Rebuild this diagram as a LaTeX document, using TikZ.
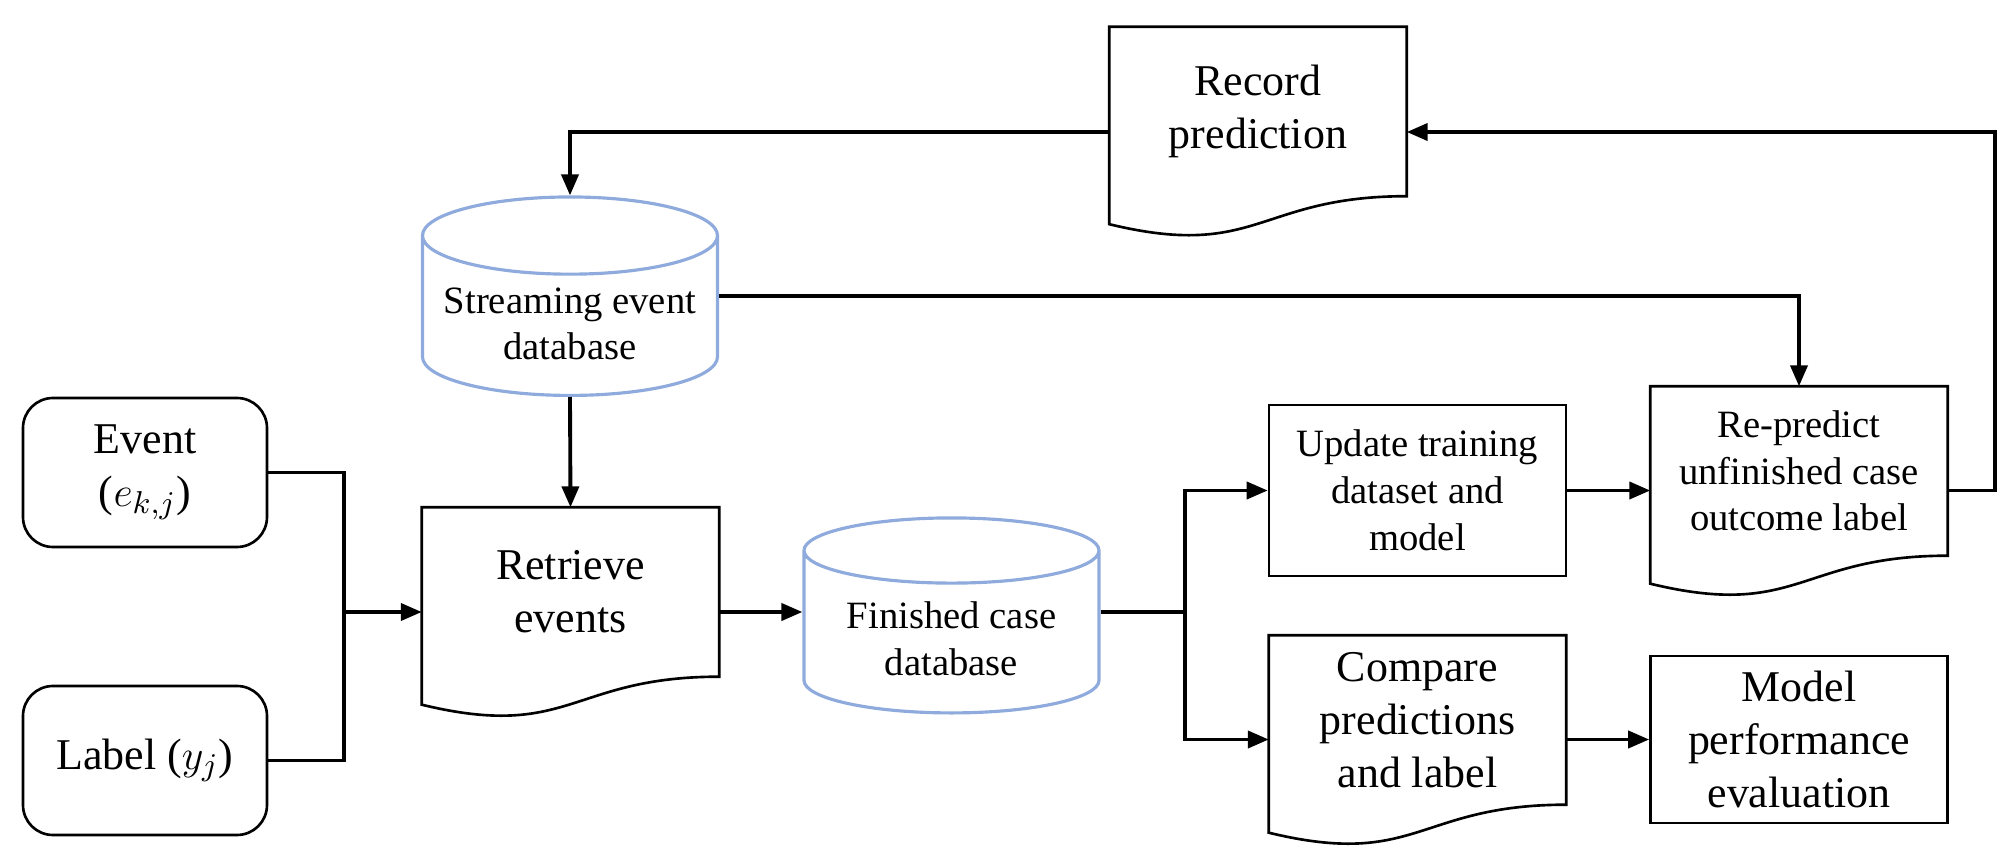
\documentclass[tikz,border=0pt]{standalone}
\usepackage{fontspec}
\setmainfont{Liberation Serif}
\usetikzlibrary{arrows.meta,shapes.geometric,calc}

\definecolor{dbblue}{RGB}{143,170,220}

\tikzset{
    bigtext/.style={font=\fontsize{12.5}{15}\selectfont},
    smalltext/.style={font=\fontsize{11}{13.3}\selectfont}
}

% outline of a document node: flat top, wavy bottom
\newcommand{\docoutline}[1]{%
    \draw[docline] (#1.south east) -- (#1.north east) -- (#1.north west)
        -- ([yshift=-2.8mm]#1.south west)
        .. controls ([yshift=-6.4mm]#1.south) and (#1.south) .. (#1.south east) -- cycle;}

\begin{document}
\begin{tikzpicture}[
    link/.style={line width=1.1pt},
    arr/.style={line width=1.1pt, -{Triangle[length=2.1mm,width=1.7mm]}},
    docline/.style={line width=0.75pt},
    srcbox/.style={draw, line width=0.75pt, rounded corners=3mm, minimum width=2.44cm, minimum height=1.49cm, align=center, bigtext},
    procbox/.style={draw, line width=0.75pt, minimum width=2.97cm, minimum height=1.71cm, align=center},
    docbox/.style={minimum width=2.96cm, minimum height=1.68cm, align=center},
    dbcyl/.style={cylinder, shape border rotate=90, aspect=0.28, draw=dbblue, line width=0.9pt, minimum width=2.95cm, minimum height=1.95cm, align=center, smalltext, anchor=south}
]
    \useasboundingbox (0,0) rectangle (20.08,-8.66);

    % --- inputs ---
    \node[srcbox] (evt) at (1.45,-4.725) {Event\\($e_{k,j}$)};
    \node[srcbox] (lbl) at (1.45,-7.605) {Label ($y_j$)};
    \coordinate (jn) at (3.44,-6.12);

    % --- databases (placed by their bottom) ---
    \node[dbcyl] (sdb) at (5.70,-3.97) {Streaming event\\database};
    \node[dbcyl] (fin) at (9.515,-7.145) {Finished case\\database};
    \coordinate (sdbmid) at ($(sdb.north)!0.5!(sdb.south)$);
    \coordinate (finmid) at ($(fin.north)!0.5!(fin.south)$);

    % --- documents ---
    \node[docbox, bigtext] (ret) at (5.705,-5.92) {Retrieve\\events};
    \node[docbox, bigtext] (rec) at (12.58,-1.115) {Record\\prediction};
    \node[docbox, smalltext] (rep) at (17.99,-4.71) {Re-predict\\unfinished case\\outcome label};
    \node[docbox, bigtext] (cmp) at (14.175,-7.20) {Compare\\predictions\\and label};
    \docoutline{ret}
    \docoutline{rec}
    \docoutline{rep}
    \docoutline{cmp}

    % --- processes ---
    \node[procbox, smalltext] (upd) at (14.175,-4.905) {Update training\\dataset and\\model};
    \node[procbox, bigtext, minimum height=1.67cm] (mod) at (17.99,-7.395) {Model\\performance\\evaluation};

    % --- connectors ---
    \coordinate (br) at (11.85,-6.12);
    \coordinate (loopR) at (19.95,-1.32);

    \draw[link] (evt.east) -| (jn) |- (lbl.east);
    \draw[arr] (jn) -- (jn -| ret.west);
    \draw[arr] (sdb.south) -- (ret.north);
    \draw[arr] (ret.east |- jn) -- (fin.west |- jn);
    \draw[link] (fin.east |- br) -- (br);
    \draw[arr] (br) |- (upd.west);
    \draw[arr] (br) |- (cmp.west |- mod.west);
    \draw[arr] (upd.east) -- (upd.east -| rep.west);
    \draw[arr] (cmp.east |- mod.west) -- (mod.west);
    \draw[arr] (rep.east |- upd.east) -| (loopR) -- (loopR -| rec.east);
    \draw[arr] (rec.west |- loopR) -| (sdb.north);
    \draw[arr] (sdb.east |- sdbmid) -| (rep.north);

\end{tikzpicture}
\end{document}
